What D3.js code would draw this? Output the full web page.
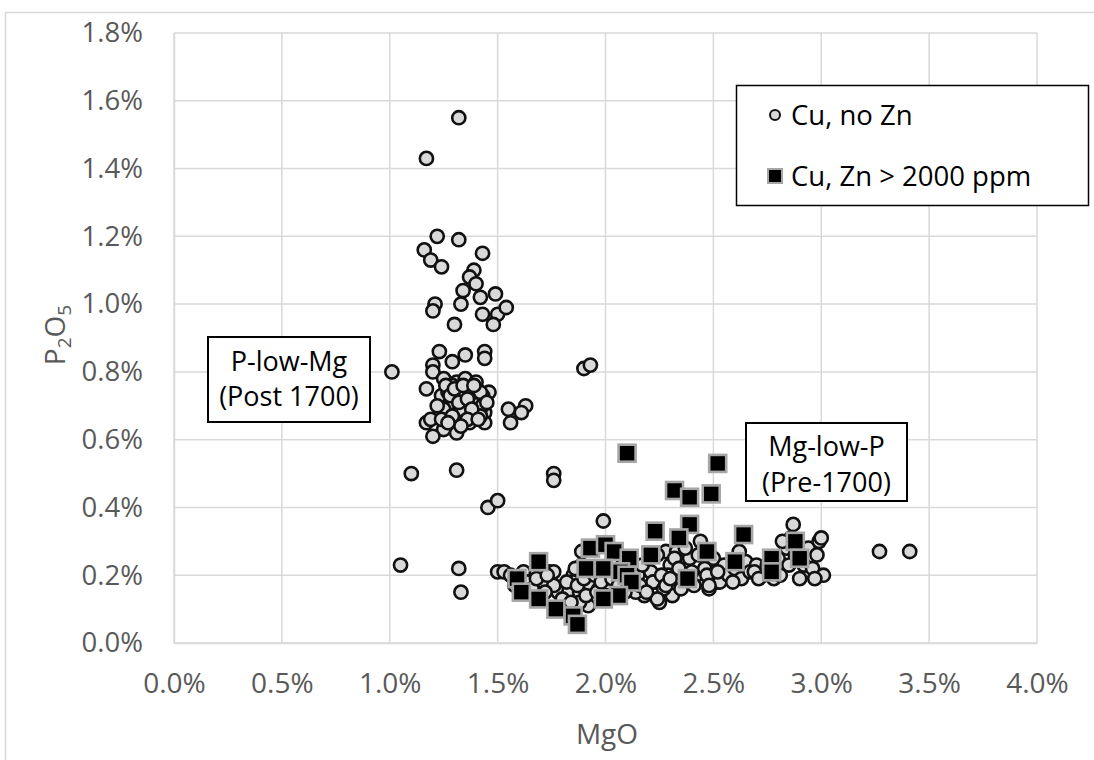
<!DOCTYPE html>
<html>
<head>
<meta charset="utf-8">
<script src="https://cdn.jsdelivr.net/npm/d3@7"></script>
<style>
  body { margin: 0; background: #fff; }
  svg { font-family: "Open Sans", sans-serif; }
</style>
</head>
<body>
<div id="chart"></div>
<script>

// Cu, no Zn (values in %)
var noZnMgO = [1.32,1.17,1.22,1.32,1.16,1.43,1.19,1.24,1.39,1.37,1.40,1.34,1.49,1.42,1.21,1.20,1.33,1.43,1.50,1.54,1.48,1.30,
  1.23,1.29,1.35,1.44,1.44,1.20,1.20,1.01,1.17,1.25,1.31,1.35,1.40,1.46,1.24,1.27,1.33,1.43,1.40,1.35,1.26,1.63,1.55,1.61,1.56,
  1.17,1.23,1.32,1.37,1.44,1.44,1.37,1.25,1.31,1.20,1.29,1.35,1.38,1.30,1.41,1.34,1.28,1.39,1.43,1.19,1.25,1.35,1.33,1.42,1.24,
  1.26,1.28,1.30,1.32,1.34,1.36,1.38,1.36,1.33,1.29,1.27,1.41,1.42,1.45,1.22,1.39,
  1.10,1.31,1.05,1.32,1.33,1.455,1.50,1.76,1.76,1.90,1.93,1.99,3.27,3.41,
  1.50,1.53,1.74,1.76,1.71,1.78,1.83,1.88,1.93,1.92,1.88,1.85,1.89,1.89,1.86,1.97,2.02,2.13,2.18,2.21,2.23,2.25,2.31,2.30,2.28,
  2.44,2.48,2.51,2.39,2.45,2.05,2.02,1.76,1.85,2.22,2.27,2.24,2.29,2.42,2.52,2.14,2.33,
  1.56,1.58,1.62,1.64,1.66,1.68,1.72,1.73,1.80,1.82,1.84,1.87,1.90,1.91,1.95,1.96,1.98,2.00,2.03,2.06,2.08,2.09,2.11,2.15,2.16,
  2.17,2.19,2.20,2.24,2.26,2.28,2.30,2.32,2.34,2.35,2.37,2.40,2.41,2.43,2.46,2.47,2.50,2.53,2.55,2.57,2.60,2.63,2.65,2.67,2.70,
  2.73,2.75,2.78,2.80,2.84,2.86,2.88,2.92,2.94,2.96,2.99,
  2.87,2.82,3.00,2.98,3.01,2.97,2.90,2.85,2.81,2.69,2.71,2.62,2.59,2.52,2.48];
var noZnP2O5 = [1.55,1.43,1.20,1.19,1.16,1.15,1.13,1.11,1.10,1.08,1.06,1.04,1.03,1.02,1.00,0.98,1.00,0.97,0.97,0.99,0.94,0.94,
  0.86,0.83,0.85,0.86,0.84,0.82,0.80,0.80,0.75,0.78,0.77,0.78,0.77,0.74,0.73,0.74,0.72,0.73,0.71,0.70,0.69,0.70,0.69,0.68,0.65,
  0.65,0.67,0.67,0.67,0.68,0.65,0.65,0.63,0.62,0.61,0.76,0.74,0.72,0.70,0.69,0.69,0.71,0.74,0.70,0.66,0.69,0.74,0.69,0.67,0.66,
  0.76,0.73,0.75,0.71,0.76,0.72,0.69,0.66,0.64,0.67,0.65,0.66,0.74,0.71,0.70,0.76,
  0.50,0.51,0.23,0.22,0.15,0.40,0.42,0.50,0.48,0.81,0.82,0.36,0.27,0.27,
  0.21,0.21,0.21,0.21,0.18,0.15,0.15,0.15,0.17,0.11,0.12,0.20,0.27,0.23,0.22,0.16,0.16,0.16,0.14,0.21,0.18,0.12,0.14,0.23,0.27,
  0.30,0.16,0.21,0.25,0.19,0.21,0.16,0.17,0.18,0.18,0.16,0.13,0.20,0.20,0.18,0.15,0.27,
  0.20,0.17,0.21,0.18,0.16,0.19,0.15,0.20,0.13,0.18,0.12,0.17,0.19,0.14,0.20,0.15,0.18,0.14,0.19,0.17,0.23,0.15,0.19,0.20,0.17,
  0.23,0.15,0.25,0.26,0.20,0.17,0.19,0.25,0.22,0.16,0.28,0.21,0.17,0.26,0.22,0.20,0.25,0.18,0.23,0.20,0.22,0.19,0.24,0.21,0.23,
  0.20,0.23,0.19,0.25,0.28,0.31,0.26,0.23,0.28,0.22,0.30,
  0.35,0.30,0.31,0.26,0.20,0.19,0.19,0.23,0.20,0.21,0.19,0.27,0.18,0.21,0.17];

// Cu, Zn > 2000 ppm
var znMgO = [2.10,2.52,2.32,2.39,2.49,2.39,2.23,2.34,2.47,2.21,1.93,2.00,2.04,2.11,1.91,1.99,2.07,2.10,1.69,1.59,2.38,2.12,
  1.61,2.06,1.69,1.99,1.77,1.85,1.87,2.64,2.60,2.77,2.77,2.88,2.90];
var znP2O5 = [0.56,0.53,0.45,0.43,0.44,0.35,0.33,0.31,0.27,0.26,0.28,0.29,0.27,0.25,0.22,0.22,0.21,0.20,0.24,0.19,0.19,0.18,
  0.15,0.14,0.13,0.13,0.10,0.08,0.055,0.32,0.24,0.25,0.21,0.30,0.25];

var xTicks = [0, 0.5, 1.0, 1.5, 2.0, 2.5, 3.0, 3.5, 4.0];
var yTicks = [0, 0.2, 0.4, 0.6, 0.8, 1.0, 1.2, 1.4, 1.6, 1.8];
var seriesNames = ["Cu, no Zn", "Cu, Zn > 2000 ppm"];

var width = 1094, height = 760;
var margin = ({top: 33, right: 57, bottom: 117, left: 174});

var svg = d3.select("#chart").append("svg")
    .attr("width", width)
    .attr("height", height);

// outer chart frame
svg.append("path")
    .attr("d", "M5.5," + height + "V12.5H" + width)
    .attr("fill", "none")
    .attr("stroke", "#d9d9d9")
    .attr("stroke-width", 1.5);

var x = d3.scaleLinear().domain([0, 4]).range([margin.left, width - margin.right]);
var y = d3.scaleLinear().domain([0, 1.8]).range([height - margin.bottom, margin.top]);

// gridlines
svg.append("g").selectAll("line")
    .data(yTicks).join("line")
    .attr("x1", margin.left).attr("x2", width - margin.right)
    .attr("y1", d => y(d)).attr("y2", d => y(d))
    .attr("stroke", "#d9d9d9").attr("stroke-width", 1.5);

svg.append("g").selectAll("line")
    .data(xTicks).join("line")
    .attr("x1", d => x(d)).attr("x2", d => x(d))
    .attr("y1", margin.top).attr("y2", height - margin.bottom)
    .attr("stroke", "#d9d9d9").attr("stroke-width", 1.5);

var xAxis = g => g
    .attr("transform", `translate(0,${height - margin.bottom})`)
    .call(d3.axisBottom(x).tickValues(xTicks).tickFormat(d => d.toFixed(1) + "%").tickSize(0).tickPadding(30))
    .call(g => g.select(".domain").attr("stroke", "#d9d9d9").attr("stroke-width", 1.5));

var yAxis = g => g
    .attr("transform", `translate(${margin.left},0)`)
    .call(d3.axisLeft(y).tickValues(yTicks).tickFormat(d => d.toFixed(1) + "%").tickSize(0).tickPadding(31))
    .call(g => g.select(".domain").attr("stroke", "#d9d9d9").attr("stroke-width", 1.5));

svg.append("g").call(xAxis)
    .selectAll("text").attr("font-size", 28).attr("fill", "#595959").attr("font-family", "Open Sans");
svg.append("g").call(yAxis)
    .selectAll("text").attr("font-size", 27.5).attr("fill", "#595959").attr("font-family", "Open Sans");

// axis titles
svg.append("text")
    .attr("x", 607).attr("y", 744)
    .attr("text-anchor", "middle")
    .attr("font-size", 28).attr("fill", "#595959")
    .text("MgO");

var yt = svg.append("text")
    .attr("transform", "translate(65,335) rotate(-90)")
    .attr("text-anchor", "middle")
    .attr("font-size", 28).attr("fill", "#595959");
yt.append("tspan").text("P");
yt.append("tspan").attr("font-size", 19).attr("dy", 6).text("2");
yt.append("tspan").attr("dy", -6).text("O");
yt.append("tspan").attr("font-size", 19).attr("dy", 6).text("5");

// points
var noZn = noZnMgO.map((d, i) => ({mgo: d, p: noZnP2O5[i]}));
var zn = znMgO.map((d, i) => ({mgo: d, p: znP2O5[i]}));

svg.append("g").selectAll("circle")
    .data(noZn).join("circle")
    .attr("cx", d => x(d.mgo))
    .attr("cy", d => y(d.p))
    .attr("r", 6.6)
    .attr("fill", "#d9d9d9")
    .attr("stroke", "#111")
    .attr("stroke-width", 2.6);

var sq = 17;
svg.append("g").selectAll("rect")
    .data(zn).join("rect")
    .attr("x", d => x(d.mgo) - sq / 2)
    .attr("y", d => y(d.p) - sq / 2)
    .attr("width", sq).attr("height", sq)
    .attr("fill", "#000")
    .attr("stroke", "#a6a6a6")
    .attr("stroke-width", 2.6);

// legend
var legend = svg.append("g");
legend.append("rect")
    .attr("x", 736.5).attr("y", 85.5).attr("width", 352).attr("height", 120)
    .attr("fill", "#fff").attr("stroke", "#000").attr("stroke-width", 1.5);
legend.append("circle")
    .attr("cx", 775).attr("cy", 115).attr("r", 5)
    .attr("fill", "#d9d9d9").attr("stroke", "#111").attr("stroke-width", 2);
legend.append("rect")
    .attr("x", 768).attr("y", 169).attr("width", 14).attr("height", 14)
    .attr("fill", "#000").attr("stroke", "#a6a6a6").attr("stroke-width", 2);
legend.selectAll("text")
    .data(seriesNames).join("text")
    .attr("x", 791)
    .attr("y", (d, i) => 125 + i * 61)
    .attr("font-size", 27.5)
    .attr("fill", "#000")
    .text(d => d);

// annotation boxes
function noteBox(x0, y0, w, h, lines, base, gap) {
    svg.append("rect")
        .attr("x", x0).attr("y", y0).attr("width", w).attr("height", h)
        .attr("fill", "#fff").attr("stroke", "#000").attr("stroke-width", 2);
    svg.selectAll(null)
        .data(lines).enter().append("text")
        .attr("x", x0 + w / 2)
        .attr("y", (d, i) => base + i * gap)
        .attr("text-anchor", "middle")
        .attr("font-size", 27)
        .attr("fill", "#000")
        .text(d => d);
}
noteBox(208, 337, 162, 85, ["P-low-Mg", "(Post 1700)"], 371, 35);
noteBox(746, 423, 161, 78, ["Mg-low-P", "(Pre-1700)"], 456, 36);

</script>
</body>
</html>
